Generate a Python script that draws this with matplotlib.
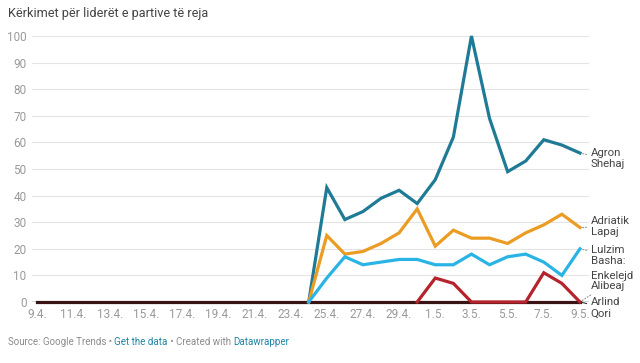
import matplotlib
matplotlib.use("Agg")
import matplotlib.pyplot as plt
import numpy as np

plt.rcParams['font.family'] = ['Roboto', 'DejaVu Sans']

# daily values 9.4. .. 9.5. (31 days), None = no data
tick_labels = ["9.4.", "11.4.", "13.4.", "15.4.", "17.4.", "19.4.", "21.4.", "23.4.",
               "25.4.", "27.4.", "29.4.", "1.5.", "3.5.", "5.5.", "7.5.", "9.5."]

agron = [None] * 15 + [0, 43, 31, 34, 39, 42, 37, 46, 62, 100, 69, 49, 53, 61, 59, 56]
adriatik = [None] * 15 + [0, 25, 18, 19, 22, 26, 35, 21, 27, 24, 24, 22, 26, 29, 33, 28]
lulzim = [None] * 15 + [0, 9, 17, 14, 15, 16, 16, 14, 14, 18, 14, 17, 18, 15, 10, 20]
enkelejd = [None] * 21 + [0, 9, 7, 0, 0, 0, 0, 11, 7, 0]
arlind = [0] * 31

names = ["Arlind\nQori", "Agron\nShehaj", "Adriatik\nLapaj", "Lulzim\nBasha:", "Enkelejd\nAlibeaj"]
series = [arlind, agron, adriatik, lulzim, enkelejd]
colors = ["#3a1414", "#1f7a95", "#eb9c22", "#2ab4e6", "#b5232d"]
label_y = [-2.2, 53.8, 28.4, 17.6, 7.9]
leader = [("-", "#333333"), (":", "#999999"), (":", "#999999"), (":", "#999999"), (":", "#999999")]

fig = plt.figure(figsize=(6.4, 3.63), dpi=100)
ax = fig.add_axes([32 / 640, 61 / 363, 557 / 640, 266 / 363])

x = np.arange(31)
for vals, col in zip(series, colors):
    y = np.array([np.nan if v is None else v for v in vals], dtype=float)
    ax.plot(x, y, color=col, lw=2.3, solid_joinstyle='miter', clip_on=False, zorder=3)

for name, vals, col, ly, (ls, lc) in zip(names, series, colors, label_y, leader):
    ax.annotate(name, xy=(30, vals[-1]), xytext=(30.6, ly), ha='left', va='center',
                fontsize=8.2, color='#444444', linespacing=1.12, annotation_clip=False,
                arrowprops=dict(arrowstyle='-', linestyle=ls, color=lc, lw=0.8,
                                shrinkA=1, shrinkB=1))

ax.set_xlim(-0.3, 30.5)
ax.set_ylim(0, 100)
ax.set_yticks(range(0, 101, 10))
ax.set_xticks(range(0, 31, 2))
ax.set_xticklabels(tick_labels)
ax.grid(axis='y', color='#e4e4e4', lw=0.8)
ax.set_axisbelow(True)
ax.axhline(0, color='#333333', lw=1, zorder=2)
for s in ax.spines.values():
    s.set_visible(False)
ax.tick_params(axis='both', length=0, labelsize=8.5, labelcolor='#9a9a9a')
ax.tick_params(axis='y', pad=4)
ax.tick_params(axis='x', pad=4)

fig.text(8 / 640, 1 - 14 / 363, "Kërkimet për liderët e partive të reja", fontsize=9.2,
         color='#444444', va='center', ha='left')

# footer
parts = [("Source: Google Trends • ", '#8c8c8c'), ("Get the data", '#1d84a6'),
         (" • Created with ", '#8c8c8c'), ("Datawrapper", '#1d84a6')]
renderer = fig.canvas.get_renderer()
xpos = 8 / 640
for txt, col in parts:
    t = fig.text(xpos, 1 - 342 / 363, txt, fontsize=7, color=col, va='center', ha='left')
    bb = t.get_window_extent(renderer=renderer)
    xpos += bb.width / fig.bbox.width

fig.savefig("out.png", dpi=100)
